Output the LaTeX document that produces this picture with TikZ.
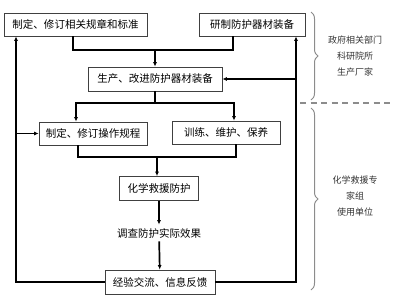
\documentclass[tikz,border=0pt]{standalone}
\usepackage{fontspec}
\newfontfamily\cjk{Noto Sans CJK SC}
\usetikzlibrary{arrows.meta,positioning,calc,decorations.pathreplacing}

\tikzset{
  box/.style={draw=black!75,line width=0.8pt,minimum height=23pt,inner sep=2pt,fill=white},
  ln/.style={line width=1.7pt},
  arr/.style={line width=1.7pt,-{Latex[length=4.5pt,width=4pt]}},
  grp/.style={draw=black!45,line width=1pt,decorate,decoration={brace,amplitude=7pt}},
  grplabel/.style={font=\cjk\fontsize{9}{16}\selectfont,align=center,text=black!80}
}

\begin{document}
\begin{tikzpicture}[x=1pt,y=-1pt,font=\cjk\fontsize{10.5}{12}\selectfont]
  \useasboundingbox (0,0) rectangle (393,300);

  \node[box,minimum width=143pt] (rules) at (75.5,24.5) {制定、修订相关规章和标准};
  \node[box,minimum width=106pt] (develop) at (252,24.5) {研制防护器材装备};
  \node[box,minimum width=134pt,minimum height=24pt] (produce) at (155,79) {生产、改进防护器材装备};
  \node[box,minimum width=108pt] (procedure) at (93,133.5) {制定、修订操作规程};
  \node[box,minimum width=108pt] (train) at (226,132.5) {训练、维护、保养};
  \node[box,minimum width=79pt,minimum height=24pt] (rescue) at (159,188.5) {化学救援防护};
  \node (survey) at (159,233) {调查防护实际效果};
  \node[box,minimum width=110pt,minimum height=24pt] (feedback) at (160,282) {经验交流、信息反馈};

  \coordinate (top) at (155,50);
  \coordinate (mid) at (155,103);
  \coordinate (low) at (157,157);
  \coordinate (left) at (16,282);
  \coordinate (right) at (296,282);

  % top merge
  \draw[ln] ([xshift=-2.5pt]rules.south) |- (top) -| ([xshift=-19pt]develop.south);
  \draw[arr] (top) -- (produce.north);
  % split to procedure and training
  \draw[ln] (produce.south) -- (mid);
  \draw[arr] (mid) -| ([xshift=-17pt]procedure.north);
  \draw[arr] (mid) -| ([xshift=8pt]train.north);
  % merge to rescue
  \draw[ln] ([xshift=-15pt]procedure.south) |- (low) -| ([xshift=10pt]train.south);
  \draw[arr] (low) -- (low |- rescue.north);
  \draw[arr] (rescue) -- (survey);
  \draw[arr] (survey) -- (feedback);

  % feedback loops
  \draw[arr] (feedback.west) -- (left) -- (left |- rules.south);
  \draw[arr] (left |- procedure.west) -- (procedure.west);
  \draw[arr] (feedback.east) -- (right) -- (right |- develop.south);
  \draw[arr] (right |- produce.east) -- (produce.east);

  % groups
  \draw[grp] (311,12) -- (311,100);
  \draw[grp] (311,108) -- (311,290);
  \draw[draw=black!45,line width=1.2pt,dash pattern=on 6pt off 4.5pt] (300,103) -- (393,103);
  \node[grplabel] (gov) at (355,56) {政府相关部门\\科研院所\\生产厂家};
  \node[grplabel] (user) at (355,196) {化学救援专\\家组\\使用单位};
\end{tikzpicture}
\end{document}
